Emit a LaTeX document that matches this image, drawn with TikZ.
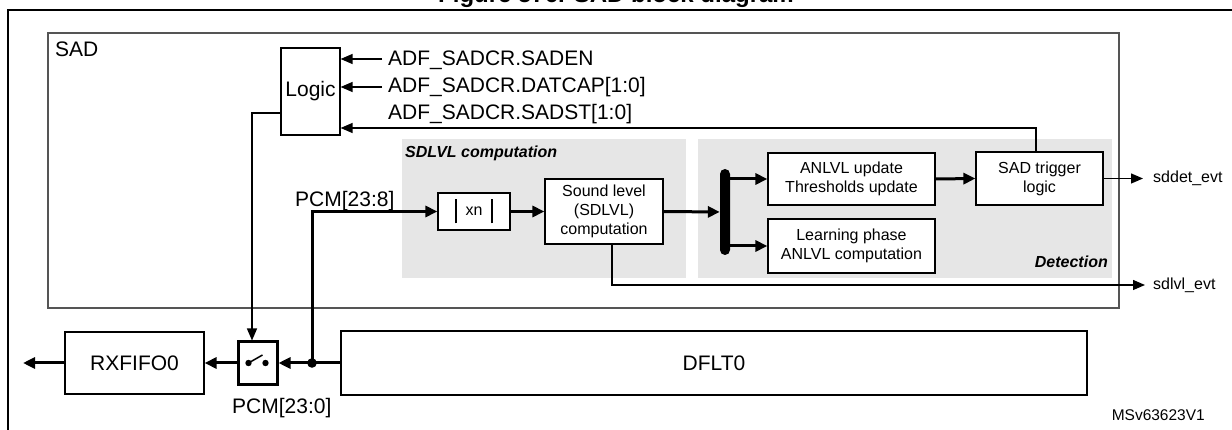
\documentclass[tikz,border=0pt]{standalone}
\usepackage{fontspec}
\setmainfont{Liberation Sans}
\usetikzlibrary{arrows.meta}
\definecolor{panel}{HTML}{E6E6E6}
\definecolor{sadline}{HTML}{555555}
\begin{document}
\begin{tikzpicture}[x=1pt,y=-1pt,
  box/.style={draw=black,line width=1.2pt,fill=white,inner sep=0pt,align=center,font=\fontsize{16}{19}\selectfont},
  bigbox/.style={box,font=\fontsize{21}{25}\selectfont},
  tarr/.style={line width=1.3pt,-{Triangle[length=12pt,width=10pt]}},
  tline/.style={line width=1.3pt},
  karr/.style={line width=3pt,-{Triangle[length=12pt,width=11pt]}},
  lbl/.style={font=\fontsize{21}{25}\selectfont,inner sep=0pt},
  slbl/.style={font=\fontsize{16}{19}\selectfont,inner sep=0pt},
  grp/.style={font=\fontsize{16}{19}\selectfont\bfseries\itshape,inner sep=0pt}]
\useasboundingbox (0,0) rectangle (1232,430);
% title and frame
\node[font=\bfseries\fontsize{24}{28}\selectfont,anchor=base,inner sep=0pt] (title) at (616,3) {Figure 576. SAD block diagram};
\draw[line width=1.8pt] (8,445) -- (8,10) -- (1245,10);
% SAD box
\draw[sadline,line width=1.2pt] (48,33) rectangle (1119,308);
\node[lbl,anchor=base west] (sadl) at (55,57) {SAD};
% grey panels
\fill[panel] (402,139) rectangle (686,278);
\fill[panel] (698,139) rectangle (1112,278);
\node[grp,anchor=base west] (sdl) at (405,158) {SDLVL computation};
\node[grp,anchor=base east] (det) at (1108,268) {Detection};
% nodes
\node[bigbox,minimum width=59pt,minimum height=87pt] (logic) at (310.5,91.5) {Logic};
\node[box,minimum width=72pt,minimum height=37pt] (xn) at (474,211.5) {xn};
\draw[line width=1.8pt] ([xshift=-18pt,yshift=-12pt]xn.center) -- ([xshift=-18pt,yshift=12pt]xn.center);
\draw[line width=1.8pt] ([xshift=18pt,yshift=-12pt]xn.center) -- ([xshift=18pt,yshift=12pt]xn.center);
\node[box,minimum width=118pt,minimum height=65pt] (snd) at (604,211.5) {Sound level\\(SDLVL)\\computation};
\node[fill=black,rounded corners=5pt,minimum width=10pt,minimum height=86pt,inner sep=0pt] (bus) at (725,212) {};
\node[box,minimum width=167pt,minimum height=52pt] (anl) at (851.5,179) {ANLVL update\\Thresholds update};
\node[box,minimum width=167pt,minimum height=54pt] (lrn) at (851.5,246) {Learning phase\\ANLVL computation};
\node[box,minimum width=127pt,minimum height=53pt] (trg) at (1039.5,178.5) {SAD trigger\\logic};
\node[bigbox,minimum width=139pt,minimum height=62pt] (rx) at (134.5,363) {RXFIFO0};
\node[draw=black,line width=3pt,fill=white,minimum width=39pt,minimum height=42pt,inner sep=0pt] (sw) at (257.5,363) {};
\node[bigbox,minimum width=746pt,minimum height=64pt] (dflt) at (714,363) {DFLT0};
\fill ([xshift=-9pt]sw.center) circle (3.2pt);
\fill ([xshift=8pt]sw.center) circle (3.2pt);
\draw[line width=1.5pt] ([xshift=-9pt]sw.center) -- ([xshift=5pt,yshift=8pt]sw.center);
% logic inputs
\coordinate (i1) at (382,59);
\coordinate (i2) at (382,87);
\draw[tarr] (i1) -- (i1 -| logic.east);
\draw[tarr] (i2) -- (i2 -| logic.east);
\node[lbl,anchor=base west] (t1) at (388,66) {ADF\_SADCR.SADEN};
\node[lbl,anchor=base west] (t2) at (388,93) {ADF\_SADCR.DATCAP[1:0]};
\node[lbl,anchor=base west] (t3) at (388,120) {ADF\_SADCR.SADST[1:0]};
% feedback from trigger
\coordinate (fb) at (1036,128);
\draw[tarr] ([xshift=-3.5pt]trg.north) -- (fb) -- (fb -| logic.east);
% logic to switch
\coordinate (lo) at (252,113);
\draw[tarr] (lo -| logic.west) -- (lo) -- (lo |- sw.north);
% PCM path
\coordinate (jn) at (312,363);
\draw[karr] (dflt.west) -- (sw.east);
\fill (jn) circle (4.8pt);
\draw[karr] (jn) |- (xn.west);
\draw[karr] (xn.east) -- (snd.west);
\draw[karr] (snd.east) -- (bus.west);
\draw[karr] (bus.east |- anl.west) -- (anl.west);
\draw[karr] (bus.east |- lrn.west) -- (lrn.west);
\draw[karr] (anl.east) -- (trg.west);
\draw[karr] (sw.west) -- (rx.east);
\coordinate (rxo) at (23,363);
\draw[karr] (rx.west) -- (rxo);
\node[lbl,anchor=base west] (pcm8) at (295,207) {PCM[23:8]};
\node[lbl,anchor=base west] (pcm0) at (232,413) {PCM[23:0]};
% outputs
\coordinate (sdo) at (1143,178.5);
\draw[tarr] (trg.east) -- (sdo);
\node[slbl,anchor=west] (sdt) at (1153,178.5) {sddet\_evt};
\coordinate (lv) at (1145,285);
\draw[tarr] ([xshift=8pt]snd.south) |- (lv);
\node[slbl,anchor=west] (slt) at (1153,285) {sdlvl\_evt};
\node[slbl,anchor=base east,font=\fontsize{15.5}{18}\selectfont] (ms) at (1205,420) {MSv63623V1};
\end{tikzpicture}
\end{document}
